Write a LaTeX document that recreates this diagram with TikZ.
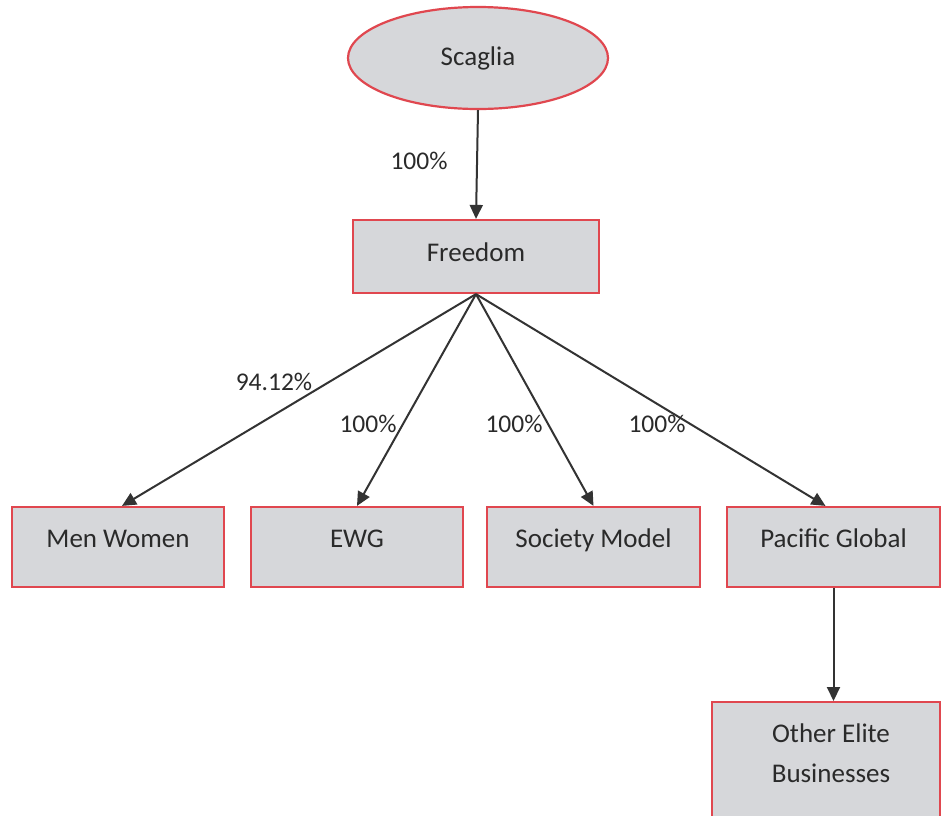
\documentclass[tikz,border=0pt]{standalone}
\usepackage{fontspec}
\setmainfont{Carlito}
\usetikzlibrary{arrows.meta,shapes.geometric}
\definecolor{boxfill}{HTML}{D6D7DA}
\definecolor{boxline}{HTML}{E0474F}
\definecolor{txt}{HTML}{2A2A2A}
\definecolor{conn}{HTML}{333333}
\tikzset{
  x=1pt, y=-1pt,
  boxnode/.style={draw=boxline, line width=2.2pt, fill=boxfill, rectangle, inner sep=0pt,
    text=txt, font=\fontsize{27}{32}\selectfont, text height=18pt, text depth=18pt},
  ovalnode/.style={draw=boxline, line width=2.2pt, fill=boxfill, ellipse, inner sep=0pt,
    text=txt, font=\fontsize{27}{32}\selectfont},
  conline/.style={draw=conn, line width=2pt, -{Triangle[length=14pt,width=13pt]}},
  pctlabel/.style={text=txt, font=\fontsize{25.5}{30}\selectfont, inner sep=0pt},
}
\begin{document}
\begin{tikzpicture}
\useasboundingbox (0,0) rectangle (945,815);
\fill[white] (0,0) rectangle (945,815);
\node[ovalnode, minimum width=260pt, minimum height=102pt] (scaglia) at (478,58) {Scaglia};
\node[boxnode, text depth=8pt, minimum width=246pt, minimum height=73pt] (freedom) at (476,256.5) {Freedom};
\node[boxnode, minimum width=212pt, minimum height=80pt] (mw) at (118,547) {Men Women};
\node[boxnode, minimum width=212pt, minimum height=80pt] (ewg) at (357,547) {EWG};
\node[boxnode, minimum width=213pt, minimum height=80pt] (sm) at (593.5,547) {Society Model};
\node[boxnode, minimum width=213pt, minimum height=80pt] (pg) at (833.5,547) {Pacific Global};
\node[draw=boxline, line width=2.2pt, fill=boxfill, rectangle, inner sep=0pt, minimum width=228pt, minimum height=140pt, anchor=north] (oeb) at (826,701) {};
\node[text=txt, font=\fontsize{27}{40}\selectfont, align=center, inner sep=0pt] (oebtext) at (831,753) {Other Elite\\Businesses};

\draw[conline] (scaglia.south) -- (freedom.north);
\draw[conline] (freedom.south) -- ([xshift=4pt]mw.north);
\draw[conline] (freedom.south) -- (ewg.north);
\draw[conline] (freedom.south) -- (sm.north);
\draw[conline] (freedom.south) -- ([xshift=-8pt]pg.north);
\draw[conline] (pg.south) -- (oeb.north -| pg.south);

\node[pctlabel] (l0) at (419,161) {100\%};
\node[pctlabel] (l1) at (274,382) {94.12\%};
\node[pctlabel] (l2) at (368,424) {100\%};
\node[pctlabel] (l3) at (514,424) {100\%};
\node[pctlabel] (l4) at (657,424) {100\%};
\end{tikzpicture}
\end{document}
